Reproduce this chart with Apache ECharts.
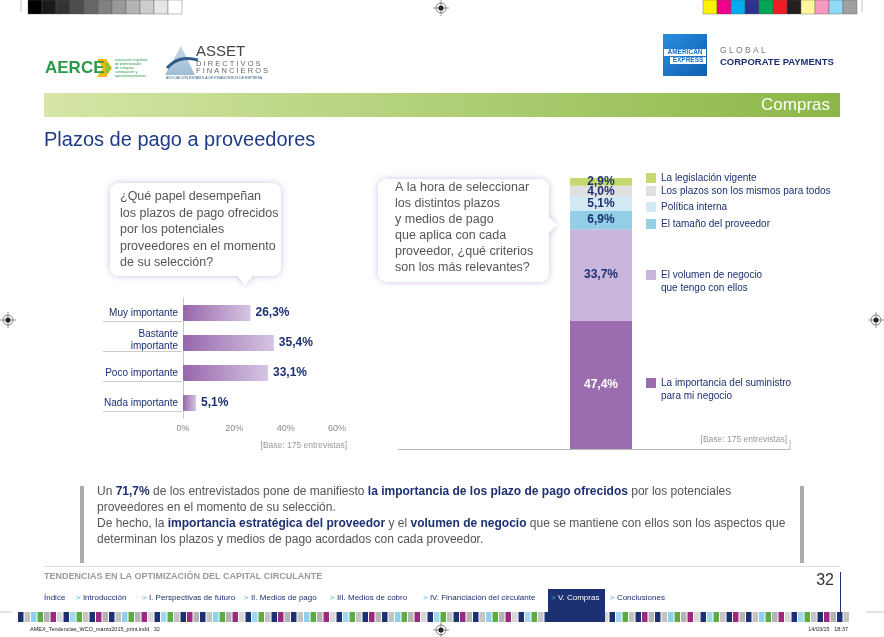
<!DOCTYPE html>
<html><head><meta charset="utf-8">
<script src="https://cdn.jsdelivr.net/npm/echarts@6/dist/echarts.min.js"></script>
<style>html,body{margin:0;padding:0;background:#fff}#c{width:884px;height:637px}</style>
</head><body><div id="c"></div>
<script>
// ---- data ----
const importanceCats = ['Muy importante', 'Bastante\nimportante', 'Poco importante', 'Nada importante'];
const importanceVals = [26.3, 35.4, 33.1, 5.1];
const importanceTicks = ['0%', '20%', '40%', '60%'];

const criteriaNames = ['La importancia del suministro para mi negocio', 'El volumen de negocio que tengo con ellos', 'El tamaño del proveedor', 'Política interna', 'Los plazos son los mismos para todos', 'La legislación vigente'];
const criteriaVals = [47.4, 33.7, 6.9, 5.1, 4.0, 2.9];
const criteriaColors = ['#9b6dae', '#c9b5dc', '#93cfe6', '#d3e9f4', '#e0e0e0', '#c6d96e'];
const criteriaLine1 = ['La importancia del suministro', 'El volumen de negocio', 'El tamaño del proveedor', 'Política interna', 'Los plazos son los mismos para todos', 'La legislación vigente'];
const criteriaLine2 = ['para mi negocio', 'que tengo con ellos', '', '', '', ''];

const NAVY = '#1d3071';
const GRAY = '#666';
const FF = '"Liberation Sans", Arial, sans-serif';
const fmt = v => v.toFixed(1).replace('.', ',') + '%';

const chart = echarts.init(document.getElementById('c'), null, {renderer: 'canvas'});

// ---- page decoration ----
const g = [];
function txt(x, y, text, o) {
  o = o || {};
  g.push({type: 'text', z: 10, style: Object.assign({x, y, text, fill: o.fill || GRAY, fontSize: o.size || 12,
    fontFamily: o.family || FF, fontWeight: o.weight || 'normal', align: o.align || 'left', verticalAlign: 'middle'}, o.extra || {})});
}
function rect(x, y, w, h, fill, extra) {
  g.push(Object.assign({type: 'rect', shape: {x, y, width: w, height: h}, style: {fill}}, extra || {}));
}
function regMark(cx, cy) {
  g.push({type: 'circle', shape: {cx, cy, r: 5}, style: {fill: 'none', stroke: '#333', lineWidth: 0.6}});
  g.push({type: 'circle', shape: {cx, cy, r: 2.6}, style: {fill: '#222'}});
  g.push({type: 'line', shape: {x1: cx - 8, y1: cy, x2: cx + 8, y2: cy}, style: {stroke: '#333', lineWidth: 0.5}});
  g.push({type: 'line', shape: {x1: cx, y1: cy - 8, x2: cx, y2: cy + 8}, style: {stroke: '#333', lineWidth: 0.5}});
}
// top colour bars
const grays = ['#000', '#1a1a1a', '#333', '#4d4d4d', '#666', '#808080', '#999', '#b3b3b3', '#ccc', '#e6e6e6', '#fff'];
grays.forEach((c, i) => rect(28 + i * 14, 0, 14, 14, c, {style: {fill: c, stroke: '#555', lineWidth: 0.4}}));
const cols = ['#fff200', '#ec008c', '#00aeef', '#2e3192', '#00a651', '#ed1c24', '#231f20', '#fff799', '#f49ac1', '#8ed8f8', '#a0a0a0'];
cols.forEach((c, i) => rect(703 + i * 14, 0, 14, 14, c, {style: {fill: c, stroke: '#555', lineWidth: 0.4}}));
g.push({type: 'line', shape: {x1: 21, y1: 0, x2: 21, y2: 12}, style: {stroke: '#888', lineWidth: 0.5}});
g.push({type: 'line', shape: {x1: 862, y1: 0, x2: 862, y2: 12}, style: {stroke: '#888', lineWidth: 0.5}});
regMark(441, 8); regMark(8, 320); regMark(876, 320); regMark(441, 630);

// AERCE logo
txt(45, 68, 'AERCE', {fill: '#2a9a4a', size: 17, weight: 'bold'});
g.push({type: 'polygon', shape: {points: [[97, 59], [106, 59], [112, 68], [106, 77], [97, 77], [103, 68]]}, style: {fill: '#f6b800'}});
g.push({type: 'polygon', shape: {points: [[104, 63], [108, 63], [111, 68], [108, 73], [104, 73], [106, 68]]}, style: {fill: '#8cc63f'}});
['asociación española', 'de profesionales', 'de compras,', 'contratación y', 'aprovisionamientos'].forEach((t, i) => txt(115, 60 + i * 4, t, {fill: '#2a9a4a', size: 3.6}));
// ASSET logo
g.push({type: 'polygon', shape: {points: [[181, 46], [165, 75], [195, 75]]}, style: {fill: new echarts.graphic.LinearGradient(0, 0, 0, 1, [{offset: 0, color: '#c4d7e6'}, {offset: 1, color: '#9fbdd5'}])}});
g.push({type: 'bezierCurve', shape: {x1: 167, y1: 68, x2: 198, y2: 60, cpx1: 178, cpy1: 56, cpx2: 190, cpy2: 58}, style: {stroke: '#2f5d8a', lineWidth: 3, fill: 'none'}});
txt(196, 52, 'ASSET', {fill: '#444', size: 15});
txt(196, 64, 'D I R E C T I V O S', {fill: '#666', size: 7.5});
txt(196, 71, 'F I N A N C I E R O S', {fill: '#666', size: 7.5});
txt(166, 78, 'ASOCIACIÓN ESPAÑOLA DE FINANCIEROS DE EMPRESA', {fill: '#2f5d8a', size: 3.5});
// AmEx
rect(663, 34, 44, 42, new echarts.graphic.LinearGradient(0, 0, 1, 1, [{offset: 0, color: '#2b8de0'}, {offset: 1, color: '#0f5fb0'}]));
rect(664, 49, 42, 7, '#fff'); rect(670, 57, 36, 7, '#fff');
txt(685, 52.5, 'AMERICAN', {fill: '#1a73c8', size: 6.5, weight: 'bold', align: 'center'});
txt(688, 60.5, 'EXPRESS', {fill: '#1a73c8', size: 6.5, weight: 'bold', align: 'center'});
txt(720, 51, 'G L O B A L', {fill: '#777', size: 8.5});
txt(720, 62, 'CORPORATE PAYMENTS', {fill: NAVY, size: 9.5, weight: 'bold'});
// green band
rect(44, 93, 796, 24, new echarts.graphic.LinearGradient(0, 0, 1, 0, [{offset: 0, color: '#d6e6a6'}, {offset: 0.5, color: '#b0cf77'}, {offset: 1, color: '#8bb747'}]));
txt(830, 105, 'Compras', {fill: '#fff', size: 17, align: 'right'});
// title
txt(44, 140, 'Plazos de pago a proveedores', {fill: '#1e3c84', size: 20});

// bubbles
function bubble(x, y, w, h, tail) {
  const sh = {shadowBlur: 7, shadowColor: 'rgba(150,110,195,0.45)'};
  g.push({type: 'rect', shape: {x, y, width: w, height: h, r: 9}, style: Object.assign({fill: '#fff'}, sh)});
  g.push({type: 'polygon', shape: {points: tail}, style: Object.assign({fill: '#fff'}, sh)});
  g.push({type: 'rect', shape: {x, y, width: w, height: h, r: 9}, style: {fill: '#fff'}});
  g.push({type: 'polygon', shape: {points: tail}, style: {fill: '#fff'}});
}
bubble(110, 183, 171, 93, [[236, 274], [254, 274], [245, 285]]);
bubble(378, 179, 171, 103, [[547, 216], [547, 234], [557, 225]]);
['¿Qué papel desempeñan', 'los plazos de pago ofrecidos', 'por los potenciales', 'proveedores en el momento', 'de su selección?']
  .forEach((t, i) => txt(120, 197 + i * 16.5, t, {fill: '#555', size: 12.5}));
['A la hora de seleccionar', 'los distintos plazos', 'y medios de pago', 'que aplica con cada', 'proveedor, ¿qué criterios', 'son los más relevantes?']
  .forEach((t, i) => txt(395, 188 + i * 16, t, {fill: '#555', size: 12.5}));

// base notes
txt(347, 446, '[Base: 175 entrevistas]', {fill: '#999', size: 8.5, align: 'right'});
txt(787, 440, '[Base: 175 entrevistas]', {fill: '#999', size: 8.5, align: 'right'});
g.push({type: 'line', shape: {x1: 398, y1: 449.5, x2: 790, y2: 449.5}, style: {stroke: '#bbb', lineWidth: 1}});
g.push({type: 'line', shape: {x1: 790, y1: 440, x2: 790, y2: 450}, style: {stroke: '#bbb', lineWidth: 1}});
// second lines of legend
[criteriaLine2[1], criteriaLine2[0]].forEach((t, i) => txt(661, [288, 396][i], t, {fill: NAVY, size: 10}));

// bottom text box
rect(80, 486, 4, 77, '#aaa'); rect(800, 486, 4, 77, '#aaa');
const rich = {b: {fontWeight: 'bold', fill: NAVY, fontSize: 12, fontFamily: FF}};
const bl = [
  'Un {b|71,7%} de los entrevistados pone de manifiesto {b|la importancia de los plazo de pago ofrecidos} por los potenciales',
  'proveedores en el momento de su selección.',
  'De hecho, la {b|importancia estratégica del proveedor} y el {b|volumen de negocio} que se mantiene con ellos son los aspectos que',
  'determinan los plazos y medios de pago acordados con cada proveedor.'];
bl.forEach((t, i) => txt(97, 492 + i * 16, t, {fill: '#555', size: 12, extra: {rich}}));

// footer
g.push({type: 'line', shape: {x1: 44, y1: 566.5, x2: 840, y2: 566.5}, style: {stroke: '#ddd', lineWidth: 1}});
txt(44, 577, 'TENDENCIAS EN LA OPTIMIZACIÓN DEL CAPITAL CIRCULANTE', {fill: '#9a9a9a', size: 9, weight: 'bold'});
txt(834, 581, '32', {fill: '#333', size: 16, align: 'right'});
g.push({type: 'line', shape: {x1: 840.5, y1: 572, x2: 840.5, y2: 622}, style: {stroke: NAVY, lineWidth: 1}});
// bottom stripes
const stripe = ['#1d3071', '#c4c4c4', '#8fd0ea', '#5eab46', '#b4b4b4', '#9b2a80', '#d8d8d8', '#1d3071', '#a0d8ee', '#5eab46', '#c4c4c4', '#1d3071', '#9b2a80', '#b4b4b4'];
for (let i = 0, x = 18; x < 845; i++, x += 6.5) rect(x, 612, 5.5, 10, stripe[i % stripe.length]);
g.push({type: 'line', shape: {x1: 0, y1: 612, x2: 12, y2: 612}, style: {stroke: '#888', lineWidth: 0.5}});
g.push({type: 'line', shape: {x1: 866, y1: 612, x2: 884, y2: 612}, style: {stroke: '#888', lineWidth: 0.5}});
rect(548, 589, 57, 33, NAVY);
const nav = [[44, 'Índice', false], [76, 'Introducción', true], [142, 'I. Perspectivas de futuro', true], [244, 'II. Medios de pago', true],
  [330, 'III. Medios de cobro', true], [423, 'IV. Financiación del circulante', true], [551, 'V. Compras', true], [610, 'Conclusiones', true]];
const navRich = {a: {fill: '#4fb3dd', fontSize: 8, fontFamily: FF}};
nav.forEach(n => txt(n[0], 598, (n[2] ? '{a|>} ' : '') + n[1], {fill: n[0] === 551 ? '#fff' : NAVY, size: 8, extra: {rich: navRich}}));
txt(30, 629, 'AMEX_Tendencias_WCO_marzo2015_print.indd   32', {fill: '#222', size: 5.5});
txt(848, 629, '14/03/15   18:37', {fill: '#222', size: 5.5, align: 'right'});

// ---- charts ----
const legends = criteriaNames.map((n, i) => ({
  data: [n], orient: 'vertical', left: 646, top: [378, 270, 219, 202, 186, 173][i], padding: 0,
  itemWidth: 10, itemHeight: 10, icon: 'rect', selectedMode: false,
  formatter: () => criteriaLine1[i],
  textStyle: {color: NAVY, fontSize: 10, fontFamily: FF}
}));

const option = {
  animation: false,
  textStyle: {fontFamily: FF},
  legend: legends,
  grid: [
    {left: 183, top: 298, width: 154, height: 120},
    {left: 570, top: 178, width: 62, height: 271}
  ],
  xAxis: [
    {type: 'value', gridIndex: 0, min: 0, max: 60, interval: 20,
      axisLine: {show: false}, axisTick: {show: false}, splitLine: {show: false},
      axisLabel: {color: '#888', fontSize: 9, margin: 6, formatter: v => importanceTicks[v / 20]}},
    {type: 'category', gridIndex: 1, data: ['Total'], show: false}
  ],
  yAxis: [
    {type: 'category', gridIndex: 0, data: importanceCats, inverse: true,
      axisLine: {show: true, lineStyle: {color: '#c8c8c8'}}, axisTick: {show: false},
      axisLabel: {color: NAVY, fontSize: 10, margin: 5, lineHeight: 11,
        formatter: v => v.indexOf('\n') >= 0 ? '{up|' + v.split('\n').join('}\n{up|') + '}' : v,
        rich: {up: {color: NAVY, fontSize: 10, lineHeight: 12, padding: [0, 0, 5, 0]}}}},
    {type: 'value', gridIndex: 1, min: 0, max: 100, show: false}
  ],
  series: [
    {type: 'bar', xAxisIndex: 0, yAxisIndex: 0, data: importanceVals, barWidth: 16,
      itemStyle: {color: new echarts.graphic.LinearGradient(0, 0, 1, 0, [{offset: 0, color: '#9766ac'}, {offset: 1, color: '#d6c5e3'}])},
      label: {show: true, position: 'right', distance: 5, formatter: p => fmt(p.value), color: NAVY, fontWeight: 'bold', fontSize: 12}}
  ].concat(criteriaNames.map((n, i) => ({
    type: 'bar', name: n, xAxisIndex: 1, yAxisIndex: 1, stack: 'c', barWidth: '100%',
    data: [criteriaVals[i]], itemStyle: {color: criteriaColors[i]},
    label: {show: true, position: 'inside', formatter: p => fmt(p.value), color: i === 0 ? '#fff' : NAVY, fontWeight: 'bold', fontSize: 12}
  }))),
  graphic: {elements: g}
};
chart.setOption(option);

// separator lines under the category labels (positioned from the axis scale)
const sep = importanceCats.map((c, i) => {
  const y = Math.round(chart.convertToPixel({yAxisIndex: 0}, i) + 8) + 0.5;
  return {type: 'line', shape: {x1: 103, y1: y, x2: 182, y2: y}, style: {stroke: '#ccc', lineWidth: 1}};
});
chart.setOption({graphic: {elements: g.concat(sep)}});
</script></body></html>
